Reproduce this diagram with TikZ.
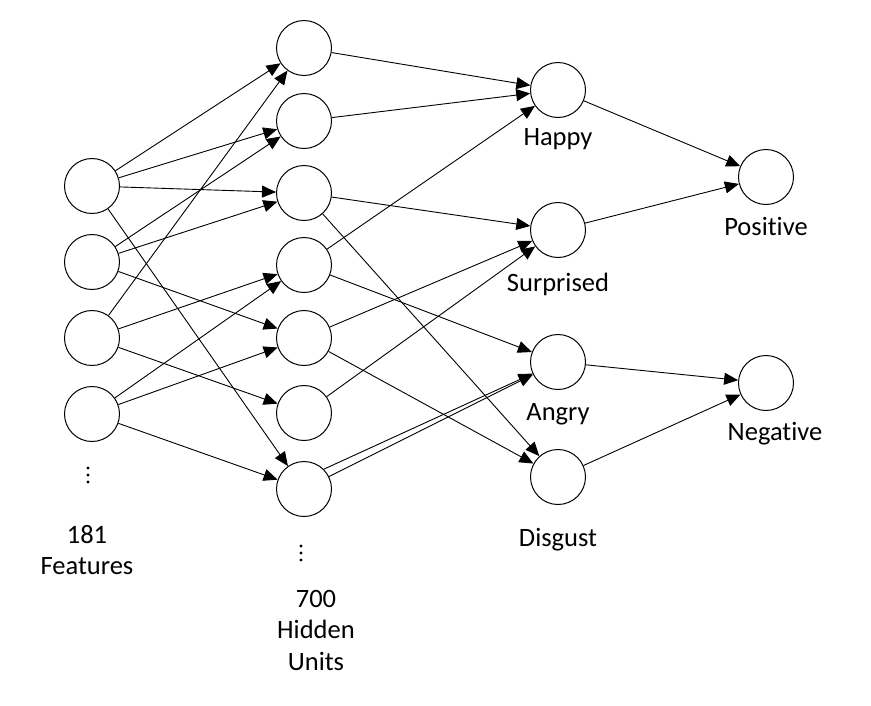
\documentclass[tikz,border=0pt]{standalone}
\usepackage{fontspec}
\setmainfont{Carlito}[Ligatures={NoCommon}]
\usetikzlibrary{arrows.meta}
\begin{document}
\begin{tikzpicture}[x=1pt,y=-1pt,
  neuron/.style={circle,draw,line width=1pt,minimum size=55pt,inner sep=0pt},
  lbl/.style={font=\fontsize{26.5}{31.5}\selectfont,align=center,inner sep=0pt},
  conn/.style={line width=0.9pt,-{Triangle[length=14pt,width=12pt]}},
  dot/.style={circle,fill=black,inner sep=0pt,minimum size=3.4pt}]
\useasboundingbox (0,0) rectangle (871,705);
% input
\node[neuron] (i1) at (92,186) {};
\node[neuron] (i2) at (92,262) {};
\node[neuron] (i3) at (92,338) {};
\node[neuron] (i4) at (92,414) {};
% hidden
\node[neuron] (h1) at (304,48) {};
\node[neuron] (h2) at (304,121) {};
\node[neuron] (h3) at (304,193) {};
\node[neuron] (h4) at (304,265) {};
\node[neuron] (h5) at (304,338) {};
\node[neuron] (h6) at (304,413) {};
\node[neuron] (h7) at (304,489) {};
% emotions
\node[neuron] (hap) at (558,90) {};
\node[neuron] (sur) at (558,230) {};
\node[neuron] (ang) at (558,362) {};
\node[neuron] (dis) at (558,477) {};
% sentiment
\node[neuron] (pos) at (766,177) {};
\node[neuron] (neg) at (766,383) {};
% labels
\node[lbl] (lhap) at (558,139) {Happy};
\node[lbl] (lsur) at (558,284) {Surprised};
\node[lbl] (lang) at (558,414) {Angry};
\node[lbl] (ldis) at (558,540) {Disgust};
\node[lbl] (lpos) at (766,226) {Positive};
\node[lbl] (lneg) at (775,434) {Negative};
\node[lbl] (lin) at (87,550) {181\\Features};
\node[lbl] (lhid) at (316,630) {700\\Hidden\\Units};
% dots
\node[dot] (din1) at (88,468) {};
\node[dot] (din2) at (88,475) {};
\node[dot] (din3) at (88,482) {};
\node[dot] (dh1) at (301,546) {};
\node[dot] (dh2) at (301,553) {};
\node[dot] (dh3) at (301,560) {};
% input -> hidden
\draw[conn] (i1) -- (h1);
\draw[conn] (i1) -- (h2);
\draw[conn] (i1) -- (h3);
\draw[conn] (i1) -- (h7);
\draw[conn] (i2) -- (h2);
\draw[conn] (i2) -- (h3);
\draw[conn] (i2) -- (h5);
\draw[conn] (i3) -- (h1);
\draw[conn] (i3) -- (h4);
\draw[conn] (i3) -- (h6);
\draw[conn] (i4) -- (h4);
\draw[conn] (i4) -- (h5);
\draw[conn] (i4) -- (h7);
% hidden -> emotions
\draw[conn] (h1) -- (hap);
\draw[conn] (h2) -- (hap);
\draw[conn] (h4) -- (hap);
\draw[conn] (h3) -- (sur);
\draw[conn] (h5) -- (sur);
\draw[conn] (h6) -- (sur);
\draw[conn] (h4) -- (ang);
\draw[conn] (h7.north east) -- (ang);
\draw[conn] (h7) -- (ang);
\draw[conn] (h3) -- (dis);
\draw[conn] (h5) -- (dis);
% emotions -> sentiment
\draw[conn] (hap) -- (pos);
\draw[conn] (sur) -- (pos);
\draw[conn] (ang) -- (neg);
\draw[conn] (dis) -- (neg);
\end{tikzpicture}
\end{document}
